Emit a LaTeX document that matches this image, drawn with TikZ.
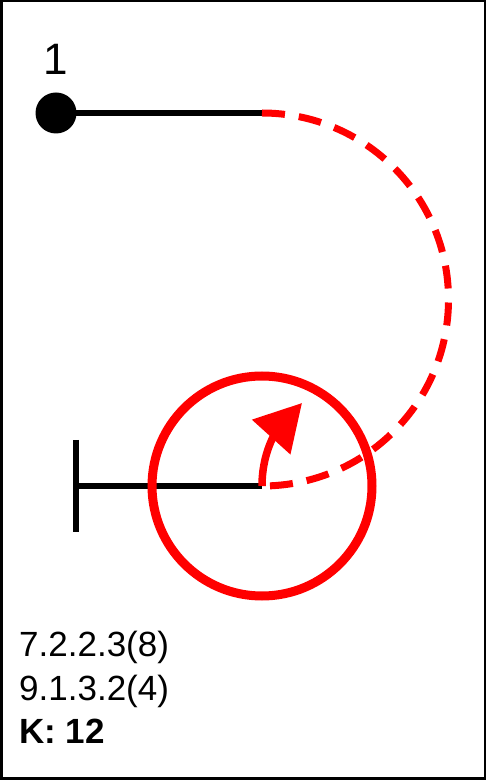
\documentclass[tikz,border=0pt]{standalone}
\usepackage{fontspec}
\setmainfont{Liberation Sans}
\usetikzlibrary{arrows.meta,positioning}

\begin{document}
\begin{tikzpicture}[
    x=1pt, y=1pt,
    path/.style={line width=6pt, black},
    route/.style={line width=7pt, red, dash pattern=on 23pt off 14pt},
    ring/.style={line width=9pt, red},
    turnarr/.style={line width=7.5pt, red, -{Triangle[length=46pt,width=50pt]}},
    startdot/.style={circle, fill=black, inner sep=0pt, minimum size=41pt},
    note/.style={anchor=base west, inner sep=0pt, font=\fontsize{35}{41}\selectfont}
]
\useasboundingbox (0,0) rectangle (486,780);
\draw[line width=2.5pt] (1.25,1.25) rectangle (484.75,778.75);

\node[startdot] (start) at (56,667) {};
\node[inner sep=0pt, font=\fontsize{44}{50}\selectfont] (num) at (56,721) {1};
\coordinate (turn) at (262,667);
\coordinate (pivot) at (262,294);
\coordinate (bar) at (76,294);

\draw[path] (start.center) -- (turn);
\draw[route] (turn) arc[start angle=90, end angle=-90, radius=186.5];
\draw[path] (bar) -- (pivot);
\draw[path] ([yshift=46pt]bar) -- ([yshift=-46pt]bar);
\draw[ring] (pivot) circle[radius=110];
\draw[turnarr] (pivot) .. controls (262,335) and (283,356) .. (302,377);

% bottom notes
\node[note] (l1) at (19,123) {7.2.2.3(8)};
\node[note] (l2) at (19,79) {9.1.3.2(4)};
\node[note] (l3) at (19,36) {\bfseries K: 12};
\end{tikzpicture}
\end{document}
